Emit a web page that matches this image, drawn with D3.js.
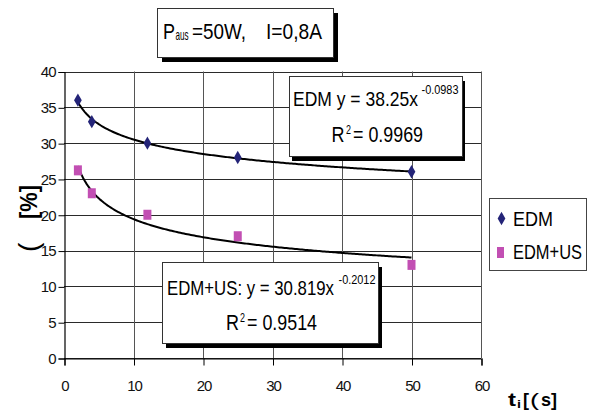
<!DOCTYPE html>
<html>
<head>
<meta charset="utf-8">
<title>EDM vs EDM+US</title>
<style>
  body { margin: 0; background: #fff; }
  text { font-family: "Liberation Sans", Arial, sans-serif; }
</style>
</head>
<body>
<script src="https://d3js.org/d3.v7.min.js"></script>
<script>
// data
var tValues = [2, 4, 12, 25, 50];
var edm = [36, 33, 30, 28, 26];
var edmUs = [26.2, 23, 20, 17, 13];
var seriesNames = ["EDM", "EDM+US"];
// power trendlines y = a * x^b as printed in the chart
var fitA = [38.25, 30.819];
var fitB = [-0.0983, -0.2012];
var fitR2 = ["0.9969", "0.9514"];
var xTicks = [0, 10, 20, 30, 40, 50, 60];
var yTicks = [0, 5, 10, 15, 20, 25, 30, 35, 40];

var w = 593, h = 410;
var svg = d3.select('body').append('svg')
    .attr('width', w)
    .attr('height', h);

var x = d3.scaleLinear().domain([0, 60]).range([64, 481]);
var y = d3.scaleLinear().domain([0, 40]).range([358, 71.5]);

// gridlines
svg.selectAll('.hgrid').data(yTicks).enter().append('line')
    .attr('x1', x(0)).attr('x2', x(60))
    .attr('y1', d => Math.round(y(d)) + 0.5).attr('y2', d => Math.round(y(d)) + 0.5)
    .attr('stroke', '#2a2a2a').attr('stroke-width', 1);
svg.selectAll('.vgrid').data(xTicks.slice(1)).enter().append('line')
    .attr('x1', d => Math.round(x(d)) + 0.5).attr('x2', d => Math.round(x(d)) + 0.5)
    .attr('y1', y(40)).attr('y2', y(0))
    .attr('stroke', '#555').attr('stroke-width', 1);

// axes
var yAxis = svg.append('g')
    .attr('transform', 'translate(' + (x(0) + 0.5) + ',0.5)')
    .call(d3.axisLeft(y).tickValues(yTicks).tickSize(6).tickPadding(3));
var xAxis = svg.append('g')
    .attr('transform', 'translate(0.5,' + (Math.round(y(0)) + 0.5) + ')')
    .call(d3.axisBottom(x).tickValues(xTicks).tickSize(7).tickPadding(15));
[yAxis, xAxis].forEach(function(g) {
    g.select('.domain').attr('stroke', '#000').attr('stroke-width', 1.2);
    g.selectAll('.tick line').attr('stroke', '#000');
    g.selectAll('.tick text')
        .attr('fill', '#111')
        .style('font-family', '"Liberation Sans", Arial, sans-serif')
        .style('font-size', '15px')
        .style('letter-spacing', '-1px');
});

// trendlines
var line = d3.line().x(d => x(d[0])).y(d => y(d[1]));
fitA.forEach(function(a, i) {
    var pts = [];
    for (var t = tValues[0]; t <= tValues[tValues.length - 1] + 0.001; t += 0.25) {
        pts.push([t, a * Math.pow(t, fitB[i])]);
    }
    svg.append('path')
        .datum(pts)
        .attr('d', line)
        .attr('fill', 'none')
        .attr('stroke', '#000')
        .attr('stroke-width', 2);
});

// markers
var diamond = d3.symbol().type(d3.symbolDiamond).size(52);
svg.selectAll('.edm').data(tValues).enter().append('path')
    .attr('d', diamond)
    .attr('transform', (d, i) => 'translate(' + x(d) + ',' + y(edm[i]) + ')')
    .attr('fill', '#242478');
svg.selectAll('.edmus').data(tValues).enter().append('rect')
    .attr('x', d => x(d) - 4)
    .attr('y', (d, i) => y(edmUs[i]) - 5)
    .attr('width', 8).attr('height', 10)
    .attr('fill', '#c24fb3');

function txt(g, px, py, s, size, len, opt) {
    opt = opt || {};
    var t = g.append('text')
        .attr('x', px).attr('y', py)
        .attr('font-size', size)
        .attr('fill', '#000')
        .text(s);
    if (len) t.attr('textLength', len).attr('lengthAdjust', 'spacingAndGlyphs');
    if (opt.bold) t.attr('font-weight', 'bold');
    return t;
}

// one text element, pieces placed as tspans: [string, x, y, size, length, bold]
function multi(g, parts) {
    var t = g.append('text').attr('fill', '#000');
    parts.forEach(function(p) {
        var s = t.append('tspan')
            .attr('x', p[1]).attr('y', p[2])
            .attr('font-size', p[3])
            .text(p[0]);
        if (p[4]) s.attr('textLength', p[4]).attr('lengthAdjust', 'spacingAndGlyphs');
        if (p[5]) s.attr('font-weight', 'bold');
    });
    return t;
}

function shadowBox(x0, y0, bw, bh, dx, dy) {
    var g = svg.append('g');
    g.append('rect').attr('x', x0 + dx).attr('y', y0 + dy).attr('width', bw).attr('height', bh).attr('fill', '#000');
    g.append('rect').attr('x', x0 + 0.5).attr('y', y0 + 0.5).attr('width', bw).attr('height', bh)
        .attr('fill', '#fff').attr('stroke', '#333').attr('stroke-width', 1);
    return g;
}

// equation boxes
var eq1 = shadowBox(289, 76, 173, 80, 3, 5);
multi(eq1, [
    [seriesNames[0] + ' y = ' + fitA[0] + 'x', 293, 105.5, 21, 125],
    [String(fitB[0]), 421.5, 94, 13, 37]
]);
multi(eq1, [
    ['R', 331.5, 142, 22, 13],
    ['2', 346, 134, 12, 5],
    ['= ' + fitR2[0], 353, 142, 22, 70]
]);

var eq2 = shadowBox(162, 262, 216, 81, 4, 5);
multi(eq2, [
    [seriesNames[1] + ': y = ' + fitA[1] + 'x', 167, 295, 21, 167],
    [String(fitB[1]), 338.5, 284, 13, 37]
]);
multi(eq2, [
    ['R', 226, 330, 22, 13],
    ['2', 240, 322, 12, 5],
    ['= ' + fitR2[1], 247, 330, 22, 70]
]);

// title box
var tb = shadowBox(157, 8, 176, 49, 5, 5);
multi(tb, [
    ['P', 163, 38.5, 22, 12],
    ['aus', 175.5, 40, 15, 13],
    ['=50W,', 192, 38.5, 22, 54],
    ['I=0,8A', 266, 38.5, 22, 56]
]);

// legend
var lg = svg.append('g');
lg.append('rect').attr('x', 489.5).attr('y', 198.5).attr('width', 97).attr('height', 72)
    .attr('fill', '#fff').attr('stroke', '#444');
lg.append('path').attr('d', diamond).attr('transform', 'translate(501.5,218.5)').attr('fill', '#242478');
lg.append('rect').attr('x', 497).attr('y', 247).attr('width', 7).attr('height', 11).attr('fill', '#c24fb3');
txt(lg, 513, 225.5, seriesNames[0], 20, 40);
txt(lg, 513, 258.5, seriesNames[1], 20, 69);

// axis titles
var yt = svg.append('g').attr('transform', 'translate(37,219) rotate(-90)');
txt(yt, 0, 0, '[%]', 23, 34, {bold: true});
var yt2 = svg.append('g').attr('transform', 'translate(38,252) rotate(-90)');
txt(yt2, 0, 0, '(', 28);

multi(svg, [
    ['t', 508, 406, 19, 8, true],
    ['i', 517, 408, 11, 4, true],
    ['[', 523, 406, 19, 6, true],
    ['(', 530, 406, 19, 9, false],
    ['s]', 541, 406, 19, 16, true]
]);
</script>
</body>
</html>
